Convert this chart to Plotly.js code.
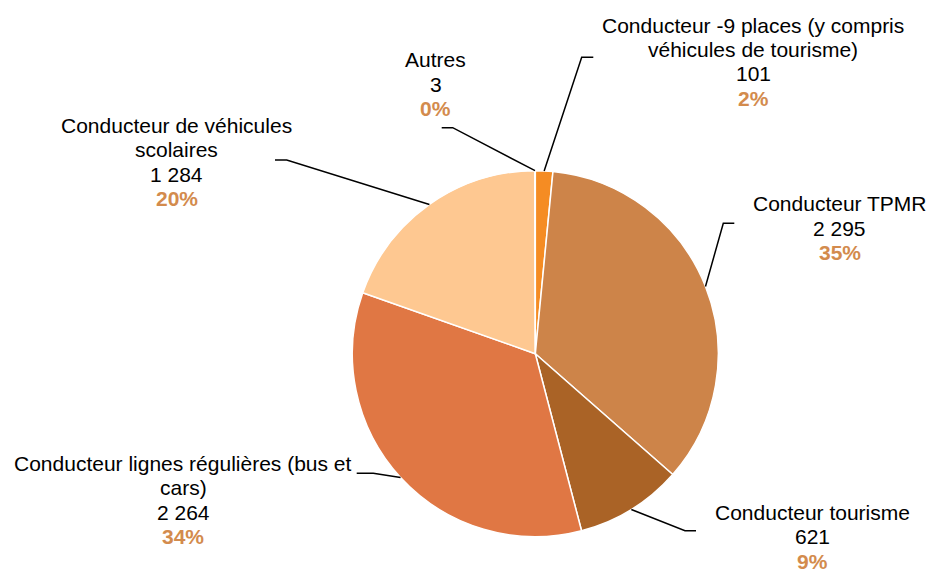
<!DOCTYPE html>
<html>
<head>
<meta charset="utf-8">
<script src="https://cdn.plot.ly/plotly-3.0.1.min.js"></script>
<style>
  html, body { margin: 0; padding: 0; background: #ffffff; }
  #chart { width: 931px; height: 570px; }
</style>
</head>
<body>
<div id="chart"></div>
<script>
// ---- Data ----
const categories = [
  "Conducteur -9 places (y compris\nvéhicules de tourisme)",
  "Conducteur TPMR",
  "Conducteur tourisme",
  "Conducteur lignes régulières (bus et\ncars)",
  "Conducteur de véhicules\nscolaires",
  "Autres"
];
const values = [101, 2295, 621, 2264, 1284, 3];
const colors = ["#F58C23", "#CD8449", "#AA6326", "#E07744", "#FEC891", "#D9D9D9"];

// ---- Layout constants (pixels) ----
const W = 931, H = 570;
const CX = 535.3, CY = 353.7, R = 183;
const LINE_STEP = 24.5;
// first text line centre of each label
const labelPos = [[753, 25], [839.7, 203.5], [812.8, 512], [183.3, 463], [176.7, 125], [435.8, 59.5]];
// elbow and end points of leader lines
const elbowPos = [[581.7, 57.3], [723.3, 223.3], [685, 530.7], [373.3, 473.3], [286.7, 160], [452.7, 127.7]];
const endPos = [[593.3, 57.3], [734.3, 223.3], [696, 530.7], [356.7, 473.3], [275, 160], [441.7, 127.7]];

const px = x => x / W;
const py = y => 1 - y / H;
const fmt = v => String(v).replace(/\B(?=(\d{3})+(?!\d))/g, " ");

const total = values.reduce((a, b) => a + b, 0);

const annotations = [];
const shapes = [];
let cum = 0;
values.forEach((v, i) => {
  const mid = (cum + v / 2) / total * 2 * Math.PI; // clockwise from 12 o'clock
  cum += v;
  const ax = CX + R * Math.sin(mid);
  const ay = CY - R * Math.cos(mid);
  const e = elbowPos[i], f = endPos[i];
  shapes.push({
    type: "path", xref: "paper", yref: "paper",
    path: `M ${px(ax)},${py(ay)} L ${px(e[0])},${py(e[1])} L ${px(f[0])},${py(f[1])}`,
    line: { color: "#000000", width: 1.5 }
  });
  const lines = categories[i].split("\n").map(t => ({ t, bold: false }));
  lines.push({ t: fmt(v), bold: false });
  lines.push({ t: Math.round(v / total * 100) + "%", bold: true });
  lines.forEach((ln, k) => {
    annotations.push({
      xref: "paper", yref: "paper",
      x: px(labelPos[i][0]), y: py(labelPos[i][1] + k * LINE_STEP),
      xanchor: "center", yanchor: "middle", showarrow: false,
      text: ln.bold ? "<b>" + ln.t + "</b>" : ln.t,
      font: { family: "Liberation Sans, Arial, sans-serif", size: 21,
              color: ln.bold ? "#D38B4D" : "#000000" }
    });
  });
});

const trace = {
  type: "pie",
  labels: categories.map(c => c.replace("\n", " ")),
  values: values,
  sort: false,
  direction: "clockwise",
  rotation: 0,
  marker: { colors: colors, line: { color: "#ffffff", width: 1.5 } },
  textinfo: "none",
  textposition: "none",
  hoverinfo: "skip",
  domain: { x: [px(CX - R), px(CX + R)], y: [py(CY + R), py(CY - R)] }
};

const layout = {
  width: W, height: H,
  margin: { l: 0, r: 0, t: 0, b: 0 },
  showlegend: false,
  paper_bgcolor: "#ffffff",
  annotations: annotations,
  shapes: shapes
};

Plotly.newPlot("chart", [trace], layout, { displayModeBar: false, staticPlot: true });
</script>
</body>
</html>
